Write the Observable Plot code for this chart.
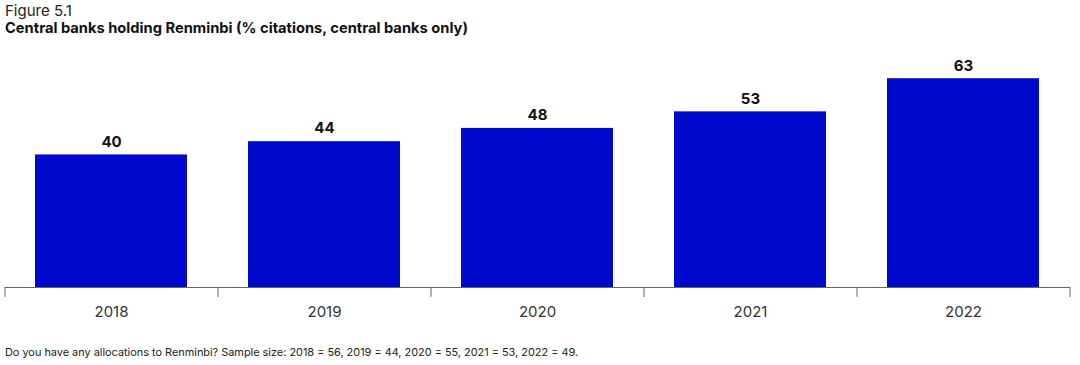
<!DOCTYPE html>
<html>
<head>
<meta charset="utf-8">
<script src="https://cdn.jsdelivr.net/npm/d3@7"></script>
<script src="https://cdn.jsdelivr.net/npm/@observablehq/plot@0.6"></script>
<style>
  body { margin: 0; background: #fff; font-family: Inter, "Noto Sans", sans-serif; color: #111; }
  #wrap { width: 1080px; height: 365px; position: relative; overflow: hidden; }
  .fig { position: absolute; left: 5px; top: 1px; font-size: 15px; color: #222; }
  .title { position: absolute; left: 5px; top: 19px; font-size: 14.7px; font-weight: 700; color: #111; }
  #chart { position: absolute; left: 0; top: 40px; }
  .note { position: absolute; left: 5px; top: 345px; font-size: 10.9px; color: #222; }
</style>
</head>
<body>
<div id="wrap">
  <div class="fig">Figure 5.1</div>
  <div class="title">Central banks holding Renminbi (% citations, central banks only)</div>
  <div id="chart"></div>
  <div class="note">Do you have any allocations to Renminbi? Sample size: 2018 = 56, 2019 = 44, 2020 = 55, 2021 = 53, 2022 = 49.</div>
</div>
<script>
const years = ["2018", "2019", "2020", "2021", "2022"];
const values = [40, 44, 48, 53, 63];

const data = years.map((y, i) => ({year: y, value: values[i]}));
const W = 1080, ML = 5, MR = 10;
const step = (W - ML - MR) / years.length;

const chart = Plot.plot({
  width: W,
  height: 290,
  marginLeft: ML,
  marginRight: MR,
  marginTop: 15,
  marginBottom: 43,
  x: {domain: years, paddingInner: 0.286, paddingOuter: 0.143, label: null},
  y: {domain: [0, 70], axis: null},
  style: {fontFamily: "Inter, 'Noto Sans', sans-serif"},
  marks: [
    Plot.barY(data, {x: "year", y: "value", fill: "#000ACD"}),
    Plot.ruleY([0], {stroke: "#666", strokeWidth: 1}),
    Plot.ruleX(data, {x: "year", y1: 0, y2: -3, dx: -step / 2, stroke: "#666"}),
    Plot.ruleX(data.slice(-1), {x: "year", y1: 0, y2: -3, dx: step / 2, stroke: "#666"}),
    Plot.text(data, {x: "year", y: "value", text: d => String(d.value), dy: -13, fontSize: 15, fontWeight: 700, fill: "#111"}),
    Plot.axisX({tickSize: 0, tickPadding: 19, fontSize: 15, label: null, fill: "#333"})
  ]
});
document.getElementById("chart").appendChild(chart);
</script>
</body>
</html>
